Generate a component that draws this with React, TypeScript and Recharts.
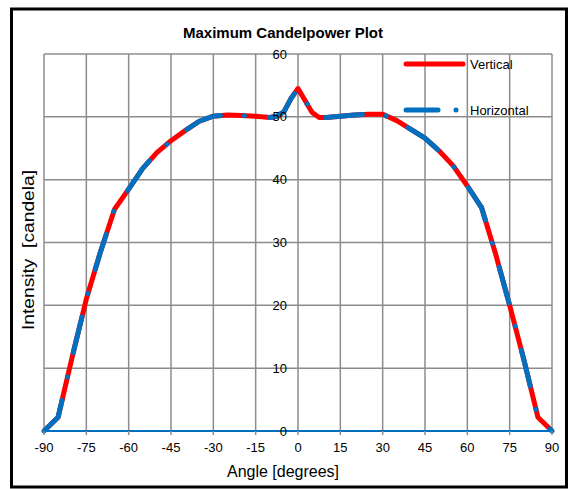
import React from 'react';
import { LineChart, Line, XAxis, YAxis, CartesianGrid, ReferenceDot, Legend } from 'recharts';

const angles = [-90, -85, -80, -75, -70, -65, -60, -55, -50, -45, -40, -35, -30, -25, -20, -15, -10, -7.5, -5, -2.5, 0, 2.5, 5, 7.5, 10, 15, 20, 25, 30, 35, 40, 45, 50, 55, 60, 65, 70, 75, 80, 85, 90];
const verticalValues = [0, 2.2, 11.8, 21, 28.5, 35.3, 38.5, 41.8, 44.3, 46.2, 47.8, 49.3, 50.1, 50.3, 50.2, 50.1, 49.9, 50.1, 50.8, 52.9, 54.5, 52.6, 50.7, 49.9, 49.9, 50.1, 50.3, 50.4, 50.4, 49.4, 48.0, 46.6, 44.6, 42.2, 39.0, 35.6, 28.2, 20, 11.4, 2.2, 0];
const horizontalValues = [0, 2.2, 11.8, 21, 28.5, 35.3, 38.5, 41.8, 44.3, 46.2, 47.8, 49.3, 50.1, 50.3, 50.2, 50.1, 49.9, 50.1, 50.8, 52.9, 54.5, 52.6, 50.7, 49.9, 49.9, 50.1, 50.3, 50.4, 50.4, 49.4, 48.0, 46.6, 44.6, 42.2, 39.0, 35.6, 28.2, 20, 11.4, 2.2, 0];
const xTicks = [-90, -75, -60, -45, -30, -15, 0, 15, 30, 45, 60, 75, 90];
const yTicks = [0, 10, 20, 30, 40, 50, 60];

const seriesNames = ['Vertical', 'Horizontal'];
const RED = '#ff0000';
const BLUE = '#0070c0';
const GRID = '#8c8c8c';
const FONT = 'Arial, "Liberation Sans", sans-serif';

const data = angles.map((a, i) => ({ angle: a, v: verticalValues[i], h: horizontalValues[i] }));

const LegendContent = () => (
  <svg width={170} height={80} style={{ overflow: 'visible' }}>
    <line x1={8} y1={14} x2={65} y2={14} stroke={RED} strokeWidth={5} strokeLinecap="round" />
    <text x={72} y={19} fontSize={13} fontFamily={FONT} fill="#000">{seriesNames[0]}</text>
    <line x1={8} y1={60} x2={40} y2={60} stroke={BLUE} strokeWidth={5} strokeLinecap="round" />
    <circle cx={58} cy={60} r={2.5} fill={BLUE} />
    <text x={72} y={65} fontSize={13} fontFamily={FONT} fill="#000">{seriesNames[1]}</text>
  </svg>
);

export default function App() {
  return (
    <div style={{ position: 'absolute', left: 0, top: 0, width: 572, height: 489, background: '#fff' }}>
      <LineChart width={572} height={489} data={data} margin={{ top: 54, right: 20, bottom: 28, left: 44 }}>
        <CartesianGrid stroke={GRID} strokeWidth={1.5} />
        <XAxis
          dataKey="angle"
          type="number"
          domain={[-90, 90]}
          ticks={xTicks}
          height={30}
          axisLine={{ stroke: BLUE, strokeWidth: 2 }}
          tickLine={{ stroke: GRID, strokeWidth: 1.5 }}
          tickSize={4}
          tickMargin={8}
          tick={{ fill: '#000', fontSize: 13, fontFamily: FONT }}
          interval={0}
        />
        <YAxis hide width={0} type="number" domain={[0, 60]} ticks={yTicks} />
        {yTicks.map((t) => (
          <ReferenceDot
            key={t}
            x={0}
            y={t}
            r={0}
            fill="none"
            stroke="none"
            ifOverflow="visible"
            label={{ value: String(t), position: 'left', offset: 11, fill: '#000', fontSize: 13, fontFamily: FONT }}
          />
        ))}
        <Line
          type="linear"
          dataKey="v"
          name={seriesNames[0]}
          stroke={RED}
          strokeWidth={5}
          strokeLinejoin="round"
          dot={false}
          isAnimationActive={false}
        />
        <Line
          type="linear"
          dataKey="h"
          name={seriesNames[1]}
          stroke={BLUE}
          strokeWidth={5}
          strokeLinecap="round"
          strokeLinejoin="round"
          strokeDasharray="37 24 0.1 24.9"
          dot={false}
          isAnimationActive={false}
        />
        <Legend
          layout="vertical"
          align="center"
          verticalAlign="middle"
          content={LegendContent}
          wrapperStyle={{ left: 398, top: 50, width: 170, height: 80 }}
        />
      </LineChart>
      <svg width={572} height={489} style={{ position: 'absolute', left: 0, top: 0, pointerEvents: 'none' }}>
        <rect x={11.5} y={9} width={555} height={478} fill="none" stroke="#000" strokeWidth={3} />
        <text x={283} y={38} textAnchor="middle" fontSize={15} fontWeight="bold" fontFamily={FONT} fill="#000">
          Maximum Candelpower Plot
        </text>
        <text x={283} y={477} textAnchor="middle" fontSize={16} fontFamily={FONT} fill="#000">
          Angle [degrees]
        </text>
        <text transform="translate(34,250) rotate(-90)" textAnchor="middle" fontSize={16} fontFamily={FONT} fill="#000" textLength={160} lengthAdjust="spacingAndGlyphs" xmlSpace="preserve">
          Intensity  [candela]
        </text>
      </svg>
    </div>
  );
}
